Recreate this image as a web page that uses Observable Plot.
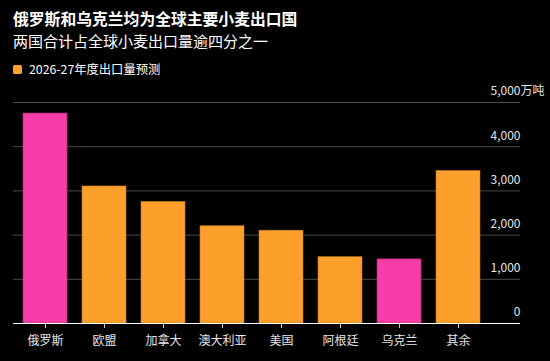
<!DOCTYPE html>
<html>
<head>
<meta charset="utf-8">
<script src="https://cdn.jsdelivr.net/npm/d3@7"></script>
<script src="https://cdn.jsdelivr.net/npm/@observablehq/plot@0.6"></script>
<style>
  html, body { margin: 0; padding: 0; background: #000; }
  body { width: 550px; height: 361px; overflow: hidden; font-family: "Noto Sans CJK SC", "Noto Sans", sans-serif; color: #fff; }
  #head { position: relative; height: 82px; }
  .title { position: absolute; left: 13px; top: 9px; font-size: 15.8px; font-weight: 700; line-height: 20px; }
  .subtitle { position: absolute; left: 13px; top: 31px; font-size: 15px; line-height: 20px; }
  .legend { position: absolute; left: 13px; top: 61px; font-size: 12.3px; line-height: 16px; display: flex; align-items: center; }
  .swatch { width: 9px; height: 9px; background: #fca02b; border-radius: 1.5px; margin-right: 7px; }
  #chart svg { display: block; }
</style>
</head>
<body>
<div id="head">
  <div class="title">俄罗斯和乌克兰均为全球主要小麦出口国</div>
  <div class="subtitle">两国合计占全球小麦出口量逾四分之一</div>
  <div class="legend"><span class="swatch"></span>2026-27年度出口量预测</div>
</div>
<div id="chart"></div>
<script>
// Wheat exporters and their 2026-27 export forecasts (10,000 tonnes)
const countries = ["俄罗斯", "欧盟", "加拿大", "澳大利亚", "美国", "阿根廷", "乌克兰", "其余"];
const exports = [4750, 3100, 2750, 2200, 2100, 1500, 1450, 3450];
const highlighted = ["俄罗斯", "乌克兰"];
const yTicks = [0, 1000, 2000, 3000, 4000, 5000];

const rows = countries.map((c, i) => ({country: c, value: exports[i], hi: highlighted.includes(c)}));

const pink = "#f73da8";
const orange = "#fca02b";

const chart = Plot.plot({
  width: 550,
  height: 279,
  marginTop: 20,
  marginBottom: 38,
  marginLeft: 13,
  marginRight: 30,
  style: {background: "#000", color: "#ddd", fontFamily: "'Noto Sans CJK SC', 'Noto Sans', sans-serif"},
  x: {domain: countries, range: [13, 490], paddingInner: 0.26, paddingOuter: 0.13, label: null},
  y: {domain: [0, 5000], label: null, axis: null},
  marks: [
    Plot.ruleY(yTicks.filter(d => d > 0), {y: d => d, stroke: "#4a4a4a", strokeWidth: 1}),
    Plot.barY(rows, {
      x: "country",
      y: "value",
      fill: d => d.hi ? pink : orange,
      stroke: d => d.hi ? "#c02c82" : "#c27a20",
      strokeWidth: 0.6
    }),
    Plot.ruleY([0], {stroke: "#fff", strokeWidth: 1.2}),
    Plot.axisX({tickSize: 5, tickPadding: 8, stroke: "#ccc", fill: "#e6e6e6", fontSize: 12, label: null}),
    // right-hand value labels sitting just above each gridline
    Plot.text(yTicks, {
      y: d => d,
      text: d => d3.format(",")(d),
      frameAnchor: "right",
      textAnchor: "end",
      dy: -11,
      fill: "#e6e6e6",
      fontSize: 12
    }),
    Plot.text([5000], {
      y: d => d,
      text: () => "万吨",
      frameAnchor: "right",
      textAnchor: "start",
      dy: -11,
      fill: "#e6e6e6",
      fontSize: 12
    })
  ]
});

document.getElementById("chart").append(chart);
</script>
</body>
</html>
